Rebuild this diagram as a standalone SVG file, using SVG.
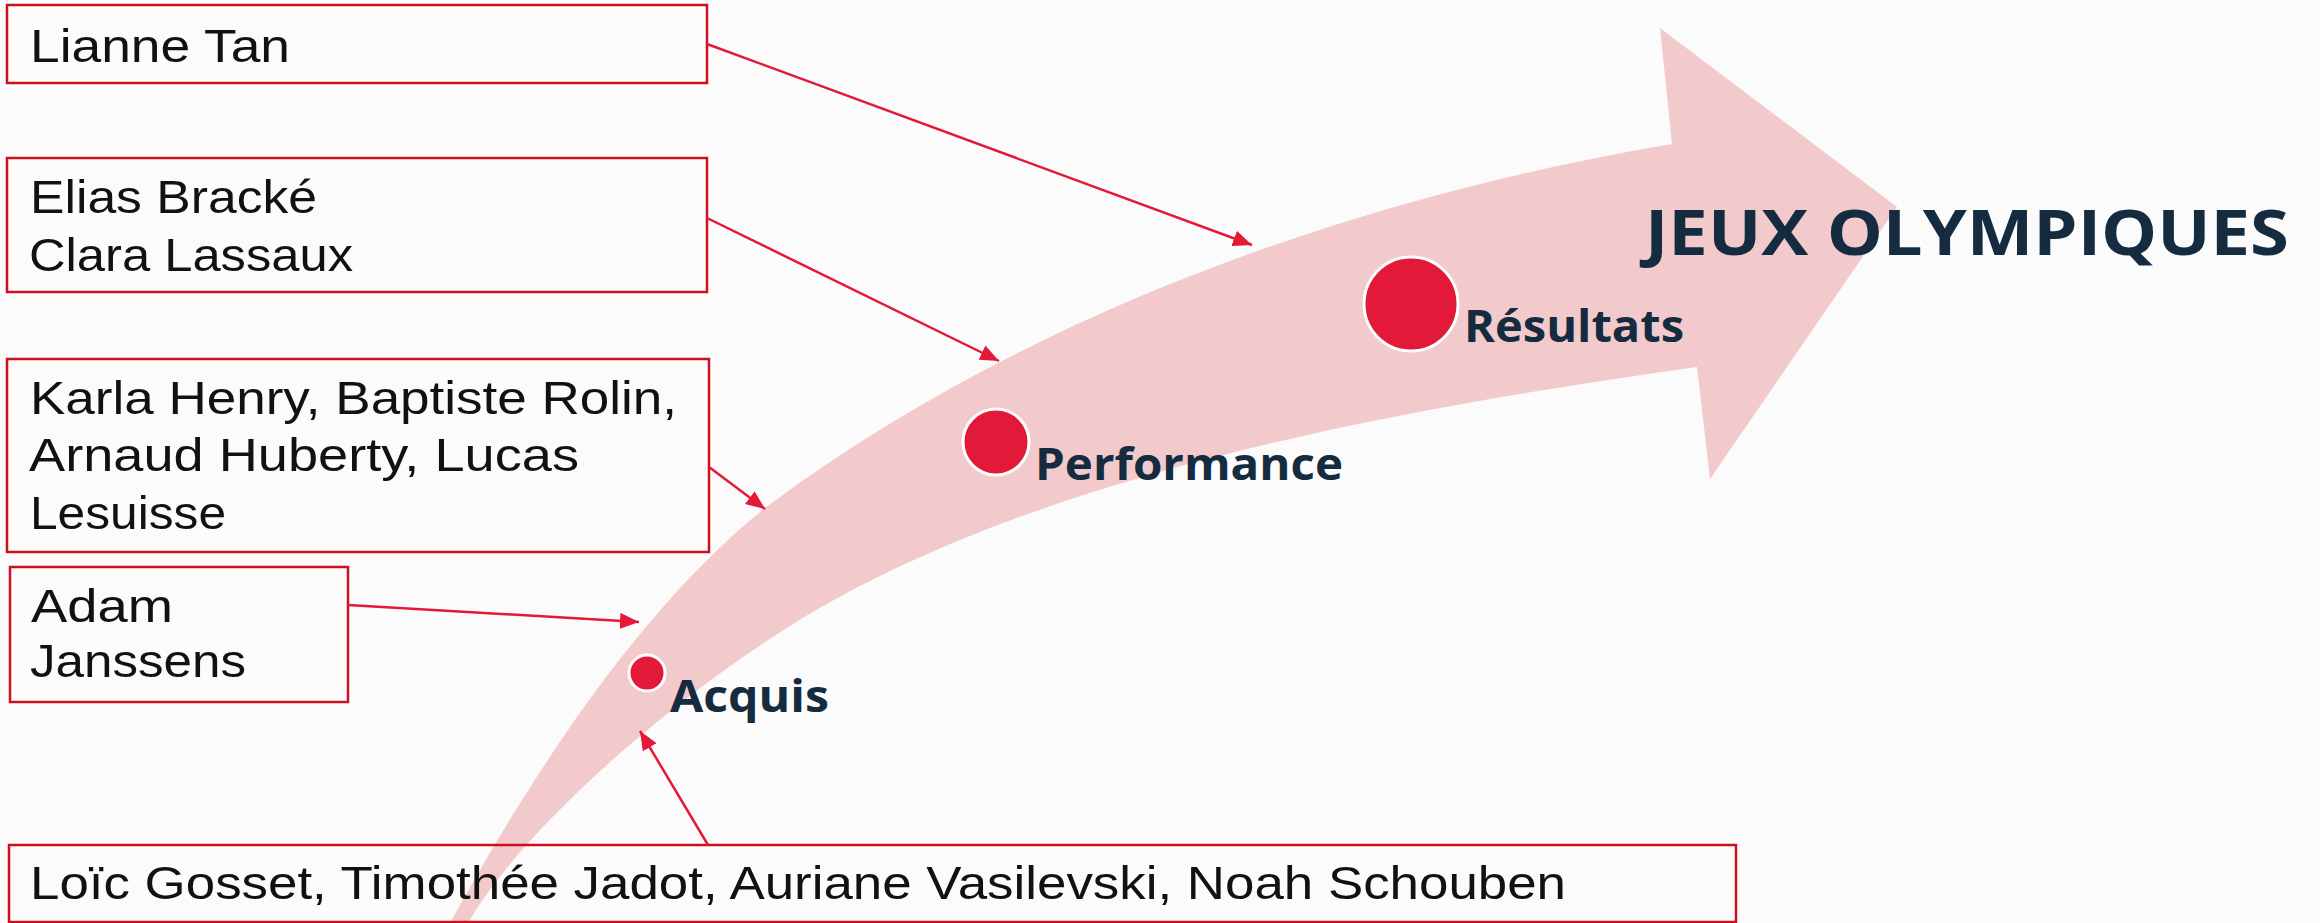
<svg xmlns="http://www.w3.org/2000/svg" width="2320" height="923" viewBox="0 0 2320 923">
  <defs>
    <style>
      .box { fill: none; stroke: #cc1020; stroke-width: 2.5; }
      .name { font-family: "Liberation Sans", "Open Sans", sans-serif; font-size: 47px; fill: #111111; }
      .lbl { font-family: "Open Sans", "Liberation Sans", sans-serif; font-weight: 700; font-size: 44px; fill: #142b40; }
      .title { font-family: "Open Sans", "Liberation Sans", sans-serif; font-weight: 700; font-size: 62px; fill: #142b40; }
      .conn { stroke: #e31937; stroke-width: 2.5; fill: none; }
      .dot { fill: #e3193a; stroke: #ffffff; stroke-width: 3; }
    </style>
    <marker id="ah" markerUnits="userSpaceOnUse" markerWidth="20" markerHeight="16" refX="19" refY="8" orient="auto">
      <path d="M0,0 L19,8 L0,16 Z" fill="#e31937"/>
    </marker>
  </defs>

  <rect x="0" y="0" width="2320" height="923" fill="#fbfbfb"/>

  <g id="big-arrow">
    <path fill="#f3cacb" d="M450,923 C518,800 628,618 765,508 C1005,328 1328,202 1672,144 L1660,28 L1897,207 L1710,479 L1697,367 C1420,406 1079,465 834,600 C703,672 528,819 468,923 Z"/>
  </g>

  <g id="node-lianne">
    <rect class="box" x="7" y="5" width="700" height="78"/>
    <text class="name" x="30" y="62" textLength="260" lengthAdjust="spacingAndGlyphs">Lianne Tan</text>
  </g>

  <g id="node-elias">
    <rect class="box" x="7" y="158" width="700" height="134"/>
    <text class="name" x="30" y="213" textLength="287" lengthAdjust="spacingAndGlyphs">Elias Bracké</text>
    <text class="name" x="29" y="271" textLength="324" lengthAdjust="spacingAndGlyphs">Clara Lassaux</text>
  </g>

  <g id="node-karla">
    <rect class="box" x="7" y="359" width="702" height="193"/>
    <text class="name" x="30" y="414" textLength="647" lengthAdjust="spacingAndGlyphs">Karla Henry, Baptiste Rolin,</text>
    <text class="name" x="29" y="471" textLength="550" lengthAdjust="spacingAndGlyphs">Arnaud Huberty, Lucas</text>
    <text class="name" x="30" y="529" textLength="196" lengthAdjust="spacingAndGlyphs">Lesuisse</text>
  </g>

  <g id="node-adam">
    <rect class="box" x="10" y="567" width="338" height="135"/>
    <text class="name" x="31" y="622" textLength="142" lengthAdjust="spacingAndGlyphs">Adam</text>
    <text class="name" x="30" y="677" textLength="216" lengthAdjust="spacingAndGlyphs">Janssens</text>
  </g>

  <g id="node-loic">
    <rect class="box" x="9" y="845" width="1727" height="77"/>
    <text class="name" x="30" y="899" textLength="1536" lengthAdjust="spacingAndGlyphs">Loïc Gosset, Timothée Jadot, Auriane Vasilevski, Noah Schouben</text>
  </g>

  <g id="connectors">
    <line class="conn" x1="707" y1="44" x2="1252" y2="245" marker-end="url(#ah)"/>
    <line class="conn" x1="707" y1="218" x2="999" y2="361" marker-end="url(#ah)"/>
    <line class="conn" x1="709" y1="467" x2="765" y2="509" marker-end="url(#ah)"/>
    <line class="conn" x1="348" y1="605" x2="639" y2="622" marker-end="url(#ah)"/>
    <line class="conn" x1="708" y1="845" x2="640" y2="731" marker-end="url(#ah)"/>
  </g>

  <g id="stage-acquis">
    <circle class="dot" cx="647" cy="673" r="18"/>
    <text class="lbl" x="670" y="712" textLength="159" lengthAdjust="spacingAndGlyphs">Acquis</text>
  </g>

  <g id="stage-performance">
    <circle class="dot" cx="996" cy="442" r="33"/>
    <text class="lbl" x="1035" y="480" textLength="308" lengthAdjust="spacingAndGlyphs">Performance</text>
  </g>

  <g id="stage-resultats">
    <circle class="dot" cx="1411" cy="304" r="47"/>
    <text class="lbl" x="1464" y="342" textLength="220" lengthAdjust="spacingAndGlyphs">Résultats</text>
  </g>

  <g id="goal">
    <text class="title" x="1645" y="255" textLength="644" lengthAdjust="spacingAndGlyphs">JEUX OLYMPIQUES</text>
  </g>
</svg>
